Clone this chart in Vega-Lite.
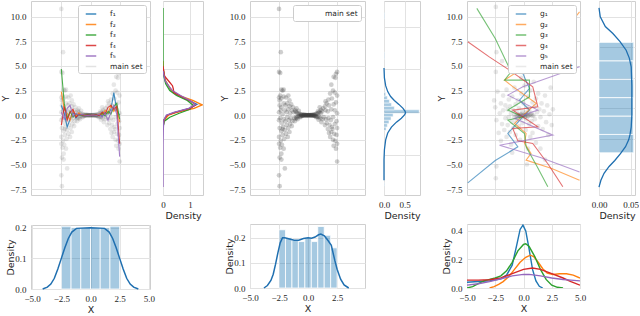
{
"background": "white",
"padding": {"left": 0, "top": 0, "right": 0, "bottom": 0},
"autosize": {"type": "pad"},
"spacing": 15,
"resolve": {"scale": {"x": "independent", "y": "independent", "color": "independent"}, "legend": {"color": "independent"}},
"datasets": {
"mainset": [
{"x":-2.5,"y":10.8},{"x":-2.35,"y":6.4},{"x":-2.5,"y":4.4},{"x":-2.4,"y":4.3},{"x":-2.3,"y":2.6},{"x":-2.2,"y":2.5},{"x":-2.1,"y":2.6},{"x":-2.4,"y":2.0},{"x":-2.5,"y":1.8},{"x":-2.45,"y":1.5},{"x":-2.3,"y":1.7},{"x":-2.1,"y":1.9},{"x":-1.9,"y":1.8},{"x":-1.7,"y":2.0},{"x":-1.6,"y":1.5},{"x":-2.45,"y":1.0},{"x":-2.3,"y":0.8},{"x":-2.1,"y":1.2},{"x":-1.95,"y":1.0},{"x":-1.8,"y":1.2},{"x":-1.6,"y":0.9},{"x":-1.45,"y":1.1},{"x":-1.3,"y":0.8},{"x":-2.5,"y":0.3},{"x":-2.35,"y":0.5},{"x":-2.2,"y":0.1},{"x":-2.0,"y":0.5},{"x":-1.85,"y":0.3},{"x":-1.7,"y":0.6},{"x":-1.55,"y":0.2},{"x":-1.4,"y":0.5},{"x":-1.25,"y":0.3},{"x":-1.1,"y":0.4},{"x":-2.5,"y":-0.5},{"x":-2.4,"y":-0.3},{"x":-2.25,"y":-0.8},{"x":-2.1,"y":-0.4},{"x":-1.95,"y":-0.6},{"x":-1.8,"y":-0.2},{"x":-1.65,"y":-0.5},{"x":-1.5,"y":-0.3},{"x":-1.35,"y":-0.6},{"x":-1.2,"y":-0.3},{"x":-1.05,"y":-0.2},{"x":-2.45,"y":-1.3},{"x":-2.3,"y":-1.6},{"x":-2.15,"y":-1.2},{"x":-2.0,"y":-1.5},{"x":-1.85,"y":-1.0},{"x":-1.7,"y":-1.3},{"x":-1.55,"y":-0.9},{"x":-1.4,"y":-1.1},{"x":-2.5,"y":-2.2},{"x":-2.35,"y":-2.6},{"x":-2.2,"y":-2.0},{"x":-2.05,"y":-2.4},{"x":-1.9,"y":-1.9},{"x":-1.75,"y":-2.2},{"x":-2.5,"y":-2.9},{"x":-2.4,"y":-3.3},{"x":-2.25,"y":-3.0},{"x":-2.1,"y":-3.4},{"x":-2.45,"y":-4.3},{"x":-2.3,"y":-4.5},{"x":-2.0,"y":-5.4},{"x":-2.5,"y":-6.1},{"x":-2.45,"y":-7.2},{"x":-2.3,"y":-3.9},{"x":-1.6,"y":-1.7},{"x":-2.2,"y":-1.4},
{"x":2.5,"y":4.4},{"x":2.4,"y":4.2},{"x":2.2,"y":3.9},{"x":2.35,"y":3.8},{"x":2.0,"y":3.1},{"x":2.15,"y":2.5},{"x":2.3,"y":2.3},{"x":2.5,"y":2.0},{"x":1.9,"y":2.2},{"x":1.75,"y":1.6},{"x":2.05,"y":1.7},{"x":2.4,"y":1.3},{"x":1.6,"y":1.2},{"x":1.45,"y":0.9},{"x":1.8,"y":1.0},{"x":2.2,"y":1.1},{"x":1.3,"y":0.7},{"x":1.2,"y":0.4},{"x":1.5,"y":0.5},{"x":1.7,"y":0.4},{"x":2.0,"y":0.6},{"x":2.3,"y":0.5},{"x":2.5,"y":0.2},{"x":1.1,"y":0.2},{"x":1.35,"y":-0.2},{"x":1.55,"y":-0.4},{"x":1.75,"y":-0.3},{"x":1.95,"y":-0.5},{"x":2.15,"y":-0.2},{"x":2.45,"y":-0.6},{"x":1.25,"y":-0.4},{"x":1.6,"y":-0.8},{"x":1.85,"y":-1.0},{"x":2.05,"y":-1.2},{"x":2.3,"y":-0.9},{"x":2.5,"y":-1.3},{"x":1.45,"y":-1.0},{"x":1.7,"y":-1.4},{"x":2.0,"y":-1.7},{"x":2.25,"y":-1.9},{"x":2.45,"y":-2.0},{"x":1.9,"y":-2.2},{"x":2.15,"y":-2.5},{"x":2.35,"y":-2.6},{"x":2.2,"y":-3.1},{"x":2.4,"y":-3.4},{"x":2.5,"y":-2.9},{"x":2.5,"y":-4.7},{"x":1.8,"y":-1.8},{"x":2.1,"y":-1.4},{"x":1.5,"y":1.4},
{"x":-1.0,"y":0.3},{"x":-0.95,"y":-0.25},{"x":-0.9,"y":0.15},{"x":-0.85,"y":-0.1},{"x":-0.8,"y":0.2},{"x":-0.75,"y":0.0},{"x":-0.7,"y":-0.15},{"x":-0.65,"y":0.1},{"x":-0.6,"y":0.05},{"x":-0.55,"y":-0.05},{"x":-0.5,"y":0.08},{"x":-0.45,"y":-0.04},{"x":-0.4,"y":0.02},{"x":-0.35,"y":0.04},{"x":-0.3,"y":-0.02},{"x":-0.25,"y":0.03},{"x":-0.2,"y":0.0},{"x":-0.15,"y":-0.02},{"x":-0.1,"y":0.01},{"x":-0.05,"y":0.0},{"x":0.0,"y":0.0},{"x":0.05,"y":0.01},{"x":0.1,"y":-0.01},{"x":0.15,"y":0.02},{"x":0.2,"y":0.0},{"x":0.25,"y":-0.03},{"x":0.3,"y":0.03},{"x":0.35,"y":-0.03},{"x":0.4,"y":0.05},{"x":0.45,"y":-0.05},{"x":0.5,"y":0.06},{"x":0.55,"y":-0.08},{"x":0.6,"y":0.1},{"x":0.65,"y":-0.1},{"x":0.7,"y":0.15},{"x":0.75,"y":-0.12},{"x":0.8,"y":0.2},{"x":0.85,"y":-0.2},{"x":0.9,"y":0.25},{"x":0.95,"y":-0.15},{"x":1.0,"y":0.35},{"x":1.05,"y":-0.3},{"x":-1.05,"y":-0.35},{"x":-1.1,"y":0.5},{"x":1.1,"y":0.55},
{"x":-0.6,"y":-0.06},{"x":-0.5,"y":-0.03},{"x":-0.4,"y":-0.02},{"x":-0.3,"y":0.01},{"x":-0.2,"y":0.02},{"x":-0.1,"y":-0.01},{"x":0.0,"y":0.02},{"x":0.1,"y":0.0},{"x":0.2,"y":0.02},{"x":0.3,"y":-0.01},{"x":0.4,"y":0.0},{"x":0.5,"y":-0.02},{"x":0.6,"y":-0.03},{"x":-0.65,"y":-0.2},{"x":0.7,"y":-0.2},{"x":-0.9,"y":-0.4},{"x":0.9,"y":-0.45},{"x":-0.8,"y":0.45},{"x":0.85,"y":0.4},{"x":-1.15,"y":-0.6},{"x":1.15,"y":-0.7},{"x":1.0,"y":0.8},{"x":-1.0,"y":0.7}
],
"set3": [
{"x":-2.45,"y":11.0},{"x":-2.4,"y":6.4},{"x":-2.45,"y":4.4},{"x":-2.4,"y":-5.2},{"x":-2.45,"y":-6.4},{"x":-1.9,"y":5.5},{"x":0.3,"y":-5.0},{"x":1.9,"y":-4.5},
{"x":-2.6,"y":1.5},{"x":-2.5,"y":0.8},{"x":-2.4,"y":-0.5},{"x":-2.3,"y":2.4},{"x":-2.2,"y":-1.8},{"x":-2.1,"y":0.2},{"x":-2.0,"y":1.2},{"x":-2.0,"y":-2.6},{"x":-1.9,"y":-0.9},{"x":-1.8,"y":2.0},{"x":-1.8,"y":0.5},{"x":-1.7,"y":-1.5},{"x":-1.6,"y":1.0},{"x":-1.6,"y":-0.3},{"x":-1.5,"y":2.6},{"x":-1.5,"y":-2.2},{"x":-1.4,"y":0.6},{"x":-1.4,"y":-1.0},{"x":-1.3,"y":1.6},{"x":-1.3,"y":-0.2},{"x":-1.2,"y":-1.7},{"x":-1.2,"y":0.9},{"x":-1.1,"y":-3.0},{"x":-1.1,"y":0.2},{"x":-1.0,"y":1.9},{"x":-1.0,"y":-0.7},{"x":-0.9,"y":0.5},{"x":-0.9,"y":-1.3},{"x":-0.8,"y":2.8},{"x":-0.8,"y":-0.2},{"x":-0.7,"y":1.1},{"x":-0.7,"y":-2.0},{"x":-0.6,"y":0.3},{"x":-0.6,"y":-0.6},{"x":-0.5,"y":1.5},{"x":-0.5,"y":-0.1},{"x":-0.4,"y":-1.1},{"x":-0.4,"y":0.7},{"x":-0.3,"y":0.1},{"x":-0.3,"y":-2.5},{"x":-0.2,"y":2.2},{"x":-0.2,"y":-0.3},{"x":-0.1,"y":0.4},{"x":-0.1,"y":-0.8},{"x":0.0,"y":0.0},{"x":0.0,"y":1.2},{"x":0.1,"y":-0.2},{"x":0.1,"y":3.0},{"x":0.2,"y":0.3},{"x":0.2,"y":-1.5},{"x":0.3,"y":0.8},{"x":0.3,"y":-0.4},{"x":0.4,"y":1.9},{"x":0.4,"y":-0.1},{"x":0.5,"y":-0.9},{"x":0.5,"y":0.5},{"x":0.6,"y":2.5},{"x":0.6,"y":-2.2},{"x":0.7,"y":0.2},{"x":0.7,"y":-0.6},{"x":0.8,"y":1.3},{"x":0.8,"y":-1.8},{"x":0.9,"y":0.0},{"x":0.9,"y":3.4},{"x":1.0,"y":-0.4},{"x":1.0,"y":0.9},{"x":1.1,"y":-2.8},{"x":1.1,"y":1.7},{"x":1.2,"y":0.3},{"x":1.3,"y":-1.1},{"x":1.3,"y":2.2},{"x":1.4,"y":0.6},{"x":1.5,"y":-0.2},{"x":1.5,"y":-3.4},{"x":1.6,"y":1.2},{"x":1.7,"y":-1.4},{"x":1.8,"y":0.4},{"x":1.9,"y":2.0},{"x":2.0,"y":-0.7},{"x":2.1,"y":1.0},{"x":2.2,"y":-2.0},{"x":2.3,"y":0.1},{"x":2.4,"y":2.8},{"x":2.5,"y":-1.0},{"x":2.6,"y":0.6},{"x":-0.2,"y":3.8},{"x":0.4,"y":-3.4},{"x":-1.0,"y":-3.8},
{"x":-0.6,"y":0.0},{"x":-0.5,"y":0.05},{"x":-0.4,"y":-0.05},{"x":-0.3,"y":0.0},{"x":-0.2,"y":0.05},{"x":-0.1,"y":-0.05},{"x":0.0,"y":0.02},{"x":0.1,"y":-0.02},{"x":0.2,"y":0.05},{"x":0.3,"y":0.0},{"x":0.4,"y":-0.05},{"x":0.5,"y":0.0},{"x":0.6,"y":0.05},{"x":0.7,"y":-0.02},{"x":-0.15,"y":0.15},{"x":0.15,"y":-0.15},{"x":0.35,"y":0.2},{"x":-0.35,"y":-0.15},{"x":-0.8,"y":0.05},{"x":0.8,"y":-0.05}
],
"fl": [
{"s":"f₁","x":-2.5,"y":1.0},{"s":"f₁","x":-2.25,"y":0.2},{"s":"f₁","x":-2.0,"y":-1.2},{"s":"f₁","x":-1.75,"y":-0.4},{"s":"f₁","x":-1.5,"y":0.3},{"s":"f₁","x":-1.25,"y":-0.3},{"s":"f₁","x":-1.0,"y":0.15},{"s":"f₁","x":-0.75,"y":-0.05},{"s":"f₁","x":-0.5,"y":0.05},{"s":"f₁","x":-0.25,"y":0.0},{"s":"f₁","x":0.0,"y":0.0},{"s":"f₁","x":0.25,"y":0.02},{"s":"f₁","x":0.5,"y":-0.03},{"s":"f₁","x":0.75,"y":0.1},{"s":"f₁","x":1.0,"y":-0.1},{"s":"f₁","x":1.25,"y":0.3},{"s":"f₁","x":1.5,"y":0.1},{"s":"f₁","x":1.75,"y":0.6},{"s":"f₁","x":2.0,"y":2.3},{"s":"f₁","x":2.25,"y":0.5},{"s":"f₁","x":2.5,"y":0.0},
{"s":"f₂","x":-2.5,"y":2.4},{"s":"f₂","x":-2.25,"y":0.6},{"s":"f₂","x":-2.0,"y":0.2},{"s":"f₂","x":-1.75,"y":-0.5},{"s":"f₂","x":-1.5,"y":0.5},{"s":"f₂","x":-1.25,"y":-0.1},{"s":"f₂","x":-1.0,"y":0.25},{"s":"f₂","x":-0.75,"y":0.0},{"s":"f₂","x":-0.5,"y":0.05},{"s":"f₂","x":-0.25,"y":-0.02},{"s":"f₂","x":0.0,"y":0.0},{"s":"f₂","x":0.25,"y":0.03},{"s":"f₂","x":0.5,"y":0.0},{"s":"f₂","x":0.75,"y":0.15},{"s":"f₂","x":1.0,"y":0.05},{"s":"f₂","x":1.25,"y":0.5},{"s":"f₂","x":1.5,"y":0.2},{"s":"f₂","x":1.75,"y":1.0},{"s":"f₂","x":2.0,"y":0.4},{"s":"f₂","x":2.25,"y":0.9},{"s":"f₂","x":2.5,"y":-0.7},
{"s":"f₃","x":-2.5,"y":4.7},{"s":"f₃","x":-2.25,"y":1.2},{"s":"f₃","x":-2.0,"y":-0.3},{"s":"f₃","x":-1.75,"y":0.4},{"s":"f₃","x":-1.5,"y":-0.2},{"s":"f₃","x":-1.25,"y":0.15},{"s":"f₃","x":-1.0,"y":-0.05},{"s":"f₃","x":-0.75,"y":0.05},{"s":"f₃","x":-0.5,"y":0.0},{"s":"f₃","x":-0.25,"y":0.02},{"s":"f₃","x":0.0,"y":0.0},{"s":"f₃","x":0.25,"y":-0.02},{"s":"f₃","x":0.5,"y":0.04},{"s":"f₃","x":0.75,"y":-0.05},{"s":"f₃","x":1.0,"y":0.2},{"s":"f₃","x":1.25,"y":-0.1},{"s":"f₃","x":1.5,"y":0.4},{"s":"f₃","x":1.75,"y":0.1},{"s":"f₃","x":2.0,"y":0.9},{"s":"f₃","x":2.25,"y":1.2},{"s":"f₃","x":2.5,"y":-0.4},
{"s":"f₄","x":-2.5,"y":-1.0},{"s":"f₄","x":-2.25,"y":0.9},{"s":"f₄","x":-2.0,"y":-0.5},{"s":"f₄","x":-1.75,"y":0.3},{"s":"f₄","x":-1.5,"y":0.6},{"s":"f₄","x":-1.25,"y":-0.2},{"s":"f₄","x":-1.0,"y":0.1},{"s":"f₄","x":-0.75,"y":0.05},{"s":"f₄","x":-0.5,"y":-0.03},{"s":"f₄","x":-0.25,"y":0.02},{"s":"f₄","x":0.0,"y":0.0},{"s":"f₄","x":0.25,"y":0.0},{"s":"f₄","x":0.5,"y":0.05},{"s":"f₄","x":0.75,"y":-0.05},{"s":"f₄","x":1.0,"y":0.3},{"s":"f₄","x":1.25,"y":0.1},{"s":"f₄","x":1.5,"y":0.8},{"s":"f₄","x":1.75,"y":1.0},{"s":"f₄","x":2.0,"y":0.6},{"s":"f₄","x":2.25,"y":0.9},{"s":"f₄","x":2.5,"y":-2.9},
{"s":"f₅","x":-2.5,"y":0.3},{"s":"f₅","x":-2.25,"y":-0.4},{"s":"f₅","x":-2.0,"y":0.7},{"s":"f₅","x":-1.75,"y":1.0},{"s":"f₅","x":-1.5,"y":-0.1},{"s":"f₅","x":-1.25,"y":0.2},{"s":"f₅","x":-1.0,"y":0.0},{"s":"f₅","x":-0.75,"y":0.1},{"s":"f₅","x":-0.5,"y":0.0},{"s":"f₅","x":-0.25,"y":-0.02},{"s":"f₅","x":0.0,"y":0.0},{"s":"f₅","x":0.25,"y":0.02},{"s":"f₅","x":0.5,"y":-0.02},{"s":"f₅","x":0.75,"y":0.1},{"s":"f₅","x":1.0,"y":-0.2},{"s":"f₅","x":1.25,"y":0.2},{"s":"f₅","x":1.5,"y":-0.5},{"s":"f₅","x":1.75,"y":0.3},{"s":"f₅","x":2.0,"y":1.0},{"s":"f₅","x":2.25,"y":0.1},{"s":"f₅","x":2.5,"y":-4.2}
],
"gl": [
{"s":"g₁","i":0,"x":-4.93,"y":-6.87},{"s":"g₁","i":1,"x":-2.5,"y":-4.6},{"s":"g₁","i":2,"x":-0.5,"y":-3.2},{"s":"g₁","i":3,"x":-1.39,"y":-1.85},{"s":"g₁","i":4,"x":-0.06,"y":-0.16},{"s":"g₁","i":5,"x":0.53,"y":0.52},{"s":"g₁","i":6,"x":-0.35,"y":1.53},{"s":"g₁","i":7,"x":0.53,"y":2.72},{"s":"g₁","i":8,"x":-0.06,"y":4.25},{"s":"g₁","i":9,"x":-0.06,"y":5.3},{"s":"g₁","i":10,"x":0.2,"y":7.5},{"s":"g₁","i":11,"x":0.53,"y":10.85},
{"s":"g₂","i":0,"x":4.96,"y":10.5},{"s":"g₂","i":1,"x":2.5,"y":7.0},{"s":"g₂","i":2,"x":0.5,"y":5.2},{"s":"g₂","i":3,"x":-1.68,"y":3.57},{"s":"g₂","i":4,"x":-0.95,"y":2.9},{"s":"g₂","i":5,"x":1.12,"y":1.2},{"s":"g₂","i":6,"x":-0.8,"y":-0.83},{"s":"g₂","i":7,"x":0.23,"y":-1.85},{"s":"g₂","i":8,"x":0.09,"y":-2.87},{"s":"g₂","i":9,"x":0.67,"y":-3.88},{"s":"g₂","i":10,"x":0.23,"y":-4.56},{"s":"g₂","i":11,"x":2.5,"y":-5.4},{"s":"g₂","i":12,"x":4.96,"y":-6.6},
{"s":"g₃","i":0,"x":-4.13,"y":10.85},{"s":"g₃","i":1,"x":-2.5,"y":7.8},{"s":"g₃","i":2,"x":-1.1,"y":4.41},{"s":"g₃","i":3,"x":-1.68,"y":3.57},{"s":"g₃","i":4,"x":0.53,"y":3.57},{"s":"g₃","i":5,"x":0.53,"y":1.87},{"s":"g₃","i":6,"x":-1.39,"y":0.52},{"s":"g₃","i":7,"x":-0.06,"y":-0.16},{"s":"g₃","i":8,"x":-1.39,"y":-0.5},{"s":"g₃","i":9,"x":0.09,"y":-1.85},{"s":"g₃","i":10,"x":0.23,"y":-3.2},{"s":"g₃","i":11,"x":1.2,"y":-5.2},{"s":"g₃","i":12,"x":2.15,"y":-7.27},
{"s":"g₄","i":0,"x":-4.93,"y":7.46},{"s":"g₄","i":1,"x":-3.0,"y":5.9},{"s":"g₄","i":2,"x":-1.24,"y":4.58},{"s":"g₄","i":3,"x":0.82,"y":2.89},{"s":"g₄","i":4,"x":1.27,"y":0.85},{"s":"g₄","i":5,"x":-0.95,"y":0.52},{"s":"g₄","i":6,"x":1.27,"y":-1.18},{"s":"g₄","i":7,"x":-0.95,"y":-1.34},{"s":"g₄","i":8,"x":-0.5,"y":-2.6},{"s":"g₄","i":9,"x":0.82,"y":-2.87},{"s":"g₄","i":10,"x":2.2,"y":-5.0},{"s":"g₄","i":11,"x":3.48,"y":-7.27},
{"s":"g₅","i":0,"x":4.96,"y":4.92},{"s":"g₅","i":1,"x":-0.06,"y":2.89},{"s":"g₅","i":2,"x":-1.39,"y":2.04},{"s":"g₅","i":3,"x":1.27,"y":0.52},{"s":"g₅","i":4,"x":-0.8,"y":-0.3},{"s":"g₅","i":5,"x":2.6,"y":-2.02},{"s":"g₅","i":6,"x":-2.12,"y":-3.04},{"s":"g₅","i":7,"x":1.5,"y":-4.3},{"s":"g₅","i":8,"x":4.96,"y":-5.76}
],
"fk": [
{"s":"f₁","y":4.8,"d":0},{"s":"f₁","y":3.5,"d":0.08},{"s":"f₁","y":3.0,"d":0.2},{"s":"f₁","y":2.5,"d":0.3},{"s":"f₁","y":2.0,"d":0.55},{"s":"f₁","y":1.5,"d":0.95},{"s":"f₁","y":1.1,"d":1.25},{"s":"f₁","y":0.7,"d":1.0},{"s":"f₁","y":0.3,"d":0.45},{"s":"f₁","y":0.0,"d":0.15},{"s":"f₁","y":-0.5,"d":0.03},{"s":"f₁","y":-1.5,"d":0},
{"s":"f₂","y":5.5,"d":0},{"s":"f₂","y":4.5,"d":0.02},{"s":"f₂","y":3.5,"d":0.1},{"s":"f₂","y":3.0,"d":0.2},{"s":"f₂","y":2.5,"d":0.32},{"s":"f₂","y":2.0,"d":0.6},{"s":"f₂","y":1.5,"d":1.1},{"s":"f₂","y":1.05,"d":1.45},{"s":"f₂","y":0.7,"d":1.15},{"s":"f₂","y":0.3,"d":0.5},{"s":"f₂","y":0.0,"d":0.2},{"s":"f₂","y":-0.5,"d":0.05},{"s":"f₂","y":-1.0,"d":0},
{"s":"f₃","y":10.9,"d":0},{"s":"f₃","y":5.0,"d":0},{"s":"f₃","y":4.0,"d":0.03},{"s":"f₃","y":3.2,"d":0.1},{"s":"f₃","y":2.5,"d":0.25},{"s":"f₃","y":2.0,"d":0.5},{"s":"f₃","y":1.5,"d":0.9},{"s":"f₃","y":1.05,"d":1.1},{"s":"f₃","y":0.6,"d":1.0},{"s":"f₃","y":0.2,"d":0.6},{"s":"f₃","y":-0.2,"d":0.25},{"s":"f₃","y":-0.6,"d":0.05},{"s":"f₃","y":-1.2,"d":0},
{"s":"f₄","y":5.0,"d":0},{"s":"f₄","y":4.0,"d":0.05},{"s":"f₄","y":3.5,"d":0.2},{"s":"f₄","y":3.0,"d":0.35},{"s":"f₄","y":2.7,"d":0.38},{"s":"f₄","y":2.3,"d":0.4},{"s":"f₄","y":1.8,"d":0.75},{"s":"f₄","y":1.4,"d":1.05},{"s":"f₄","y":1.05,"d":1.2},{"s":"f₄","y":0.7,"d":1.0},{"s":"f₄","y":0.3,"d":0.45},{"s":"f₄","y":0.0,"d":0.15},{"s":"f₄","y":-0.5,"d":0.03},{"s":"f₄","y":-1.5,"d":0},
{"s":"f₅","y":4.5,"d":0},{"s":"f₅","y":3.5,"d":0.08},{"s":"f₅","y":3.0,"d":0.2},{"s":"f₅","y":2.5,"d":0.35},{"s":"f₅","y":2.0,"d":0.65},{"s":"f₅","y":1.5,"d":1.0},{"s":"f₅","y":1.1,"d":1.2},{"s":"f₅","y":0.7,"d":0.95},{"s":"f₅","y":0.3,"d":0.4},{"s":"f₅","y":0.0,"d":0.12},{"s":"f₅","y":-0.5,"d":0.03},{"s":"f₅","y":-1.5,"d":0.01},{"s":"f₅","y":-3.0,"d":0},{"s":"f₅","y":-7.3,"d":0}
],
"h2": [
{"y0":-1.55,"y1":-1.2,"d":0.05},{"y0":-1.2,"y1":-0.85,"d":0.08},{"y0":-0.85,"y1":-0.5,"d":0.12},{"y0":-0.5,"y1":-0.15,"d":0.17},{"y0":-0.15,"y1":0.2,"d":0.22},{"y0":0.2,"y1":0.55,"d":0.85},{"y0":0.55,"y1":0.9,"d":0.25},{"y0":0.9,"y1":1.25,"d":0.18},{"y0":1.25,"y1":1.6,"d":0.13},{"y0":1.6,"y1":1.95,"d":0.08},{"y0":1.95,"y1":2.3,"d":0.04},{"y0":9.8,"y1":10.4,"d":0.015},{"y0":5.7,"y1":6.4,"d":0.015},{"y0":4.2,"y1":4.55,"d":0.015},{"y0":-4.55,"y1":-4.2,"d":0.015},{"y0":-6.1,"y1":-5.75,"d":0.015},{"y0":-7.2,"y1":-6.85,"d":0.015}
],
"k2": [
{"y":4.8,"d":0},{"y":3.8,"d":0.01},{"y":3.0,"d":0.04},{"y":2.4,"d":0.09},{"y":1.9,"d":0.16},{"y":1.5,"d":0.25},{"y":1.1,"d":0.36},{"y":0.7,"d":0.46},{"y":0.4,"d":0.51},{"y":0.24,"d":0.52},{"y":0.05,"d":0.5},{"y":-0.3,"d":0.42},{"y":-0.7,"d":0.3},{"y":-1.2,"d":0.18},{"y":-1.8,"d":0.09},{"y":-2.5,"d":0.04},{"y":-3.5,"d":0.01},{"y":-4.5,"d":0},{"y":-6.6,"d":0}
],
"h3": [
{"y0":-3.82,"y1":-1.95,"d":0.055},{"y0":-1.95,"y1":-0.08,"d":0.054},{"y0":-0.08,"y1":1.79,"d":0.054},{"y0":1.79,"y1":3.66,"d":0.055},{"y0":3.66,"y1":5.53,"d":0.054},{"y0":5.53,"y1":7.4,"d":0.055}
],
"k3": [
{"y":10.9,"d":0},{"y":10.0,"d":0.002},{"y":9.0,"d":0.01},{"y":8.3,"d":0.022},{"y":7.5,"d":0.033},{"y":6.6,"d":0.043},{"y":5.8,"d":0.048},{"y":4.9,"d":0.051},{"y":3.0,"d":0.052},{"y":0.0,"d":0.052},{"y":-1.2,"d":0.051},{"y":-2.0,"d":0.049},{"y":-2.5,"d":0.047},{"y":-3.2,"d":0.042},{"y":-3.9,"d":0.034},{"y":-4.6,"d":0.025},{"y":-5.2,"d":0.016},{"y":-5.9,"d":0.008},{"y":-6.6,"d":0.003},{"y":-7.3,"d":0}
],
"b1h": [
{"x0":-2.5,"x1":-1.667,"d":0.205},{"x0":-1.667,"x1":-0.833,"d":0.2},{"x0":-0.833,"x1":0,"d":0.2},{"x0":0,"x1":0.833,"d":0.2},{"x0":0.833,"x1":1.667,"d":0.2},{"x0":1.667,"x1":2.5,"d":0.205}
],
"b1k": [
{"x":-4.1,"d":0},{"x":-3.7,"d":0.006},{"x":-3.4,"d":0.016},{"x":-3.1,"d":0.035},{"x":-2.8,"d":0.065},{"x":-2.5,"d":0.1},{"x":-2.2,"d":0.135},{"x":-1.9,"d":0.165},{"x":-1.6,"d":0.186},{"x":-1.2,"d":0.198},{"x":0,"d":0.2},{"x":1.2,"d":0.198},{"x":1.6,"d":0.186},{"x":1.9,"d":0.165},{"x":2.2,"d":0.135},{"x":2.5,"d":0.1},{"x":2.8,"d":0.065},{"x":3.1,"d":0.035},{"x":3.4,"d":0.016},{"x":3.7,"d":0.006},{"x":4.1,"d":0}
],
"b2h": [
{"x0":-2.5,"x1":-1.944,"d":0.232},{"x0":-1.944,"x1":-1.389,"d":0.2},{"x0":-1.389,"x1":-0.833,"d":0.19},{"x0":-0.833,"x1":-0.278,"d":0.185},{"x0":-0.278,"x1":0.278,"d":0.2},{"x0":0.278,"x1":0.833,"d":0.185},{"x0":0.833,"x1":1.389,"d":0.245},{"x0":1.389,"x1":1.944,"d":0.21},{"x0":1.944,"x1":2.5,"d":0.16}
],
"b2k": [
{"x":-3.8,"d":0},{"x":-3.5,"d":0.01},{"x":-3.2,"d":0.03},{"x":-3.0,"d":0.055},{"x":-2.8,"d":0.095},{"x":-2.6,"d":0.14},{"x":-2.4,"d":0.18},{"x":-2.2,"d":0.2},{"x":-2.0,"d":0.2},{"x":-1.6,"d":0.195},{"x":-1.2,"d":0.19},{"x":-0.8,"d":0.19},{"x":-0.4,"d":0.197},{"x":0.0,"d":0.2},{"x":0.3,"d":0.198},{"x":0.6,"d":0.203},{"x":0.9,"d":0.212},{"x":1.1,"d":0.215},{"x":1.4,"d":0.208},{"x":1.7,"d":0.19},{"x":2.0,"d":0.17},{"x":2.3,"d":0.11},{"x":2.5,"d":0.075},{"x":2.8,"d":0.035},{"x":3.1,"d":0.012},{"x":3.5,"d":0}
],
"b3k": [
{"s":"g₁","x":-5,"d":0.04},{"s":"g₁","x":-4,"d":0.045},{"s":"g₁","x":-3,"d":0.05},{"s":"g₁","x":-2,"d":0.065},{"s":"g₁","x":-1.5,"d":0.09},{"s":"g₁","x":-1.0,"d":0.16},{"s":"g₁","x":-0.6,"d":0.3},{"s":"g₁","x":-0.3,"d":0.41},{"s":"g₁","x":-0.05,"d":0.44},{"s":"g₁","x":0.2,"d":0.4},{"s":"g₁","x":0.5,"d":0.27},{"s":"g₁","x":0.8,"d":0.13},{"s":"g₁","x":1.1,"d":0.05},{"s":"g₁","x":1.4,"d":0.012},{"s":"g₁","x":1.7,"d":0},
{"s":"g₂","x":-3.0,"d":0},{"s":"g₂","x":-2.6,"d":0.01},{"s":"g₂","x":-2.2,"d":0.025},{"s":"g₂","x":-1.8,"d":0.045},{"s":"g₂","x":-1.3,"d":0.08},{"s":"g₂","x":-0.8,"d":0.13},{"s":"g₂","x":-0.3,"d":0.18},{"s":"g₂","x":0.2,"d":0.215},{"s":"g₂","x":0.6,"d":0.23},{"s":"g₂","x":0.9,"d":0.22},{"s":"g₂","x":1.3,"d":0.18},{"s":"g₂","x":1.7,"d":0.135},{"s":"g₂","x":2.1,"d":0.105},{"s":"g₂","x":2.6,"d":0.095},{"s":"g₂","x":3.2,"d":0.1},{"s":"g₂","x":3.8,"d":0.1},{"s":"g₂","x":4.4,"d":0.09},{"s":"g₂","x":5.0,"d":0.07},
{"s":"g₃","x":-5,"d":0},{"s":"g₃","x":-4.5,"d":0.01},{"s":"g₃","x":-4,"d":0.03},{"s":"g₃","x":-3.5,"d":0.05},{"s":"g₃","x":-3,"d":0.06},{"s":"g₃","x":-2.5,"d":0.07},{"s":"g₃","x":-2,"d":0.085},{"s":"g₃","x":-1.5,"d":0.12},{"s":"g₃","x":-1,"d":0.18},{"s":"g₃","x":-0.5,"d":0.26},{"s":"g₃","x":0,"d":0.305},{"s":"g₃","x":0.2,"d":0.31},{"s":"g₃","x":0.5,"d":0.29},{"s":"g₃","x":1.0,"d":0.22},{"s":"g₃","x":1.5,"d":0.13},{"s":"g₃","x":2.0,"d":0.06},{"s":"g₃","x":2.5,"d":0.02},{"s":"g₃","x":3.0,"d":0.005},{"s":"g₃","x":3.5,"d":0},
{"s":"g₄","x":-5,"d":0.055},{"s":"g₄","x":-4,"d":0.055},{"s":"g₄","x":-3,"d":0.058},{"s":"g₄","x":-2,"d":0.07},{"s":"g₄","x":-1,"d":0.1},{"s":"g₄","x":0,"d":0.13},{"s":"g₄","x":0.8,"d":0.14},{"s":"g₄","x":1.5,"d":0.13},{"s":"g₄","x":2.5,"d":0.1},{"s":"g₄","x":3.5,"d":0.07},{"s":"g₄","x":4.2,"d":0.045},{"s":"g₄","x":5,"d":0.02},
{"s":"g₅","x":-5,"d":0.02},{"s":"g₅","x":-4,"d":0.03},{"s":"g₅","x":-3,"d":0.045},{"s":"g₅","x":-2,"d":0.065},{"s":"g₅","x":-1,"d":0.085},{"s":"g₅","x":0,"d":0.095},{"s":"g₅","x":0.5,"d":0.095},{"s":"g₅","x":1.5,"d":0.085},{"s":"g₅","x":2.5,"d":0.07},{"s":"g₅","x":3.5,"d":0.06},{"s":"g₅","x":4.2,"d":0.055},{"s":"g₅","x":5,"d":0.05}
]
},
"hconcat": [
{"vconcat": [
 {"hconcat": [
  {"width": 119, "height": 194, "layer": [
   {"data": {"name": "mainset"}, "mark": {"type": "point", "filled": true, "size": 22, "opacity": 0.12, "color": "#3a3a3a", "clip": true},
    "encoding": {"x": {"field": "x", "type": "quantitative", "scale": {"domain": [-5.1, 5.1], "nice": false, "zero": false}, "axis": {"values": [-2.5, 0, 2.5], "labels": false, "title": null}},
                 "y": {"field": "y", "type": "quantitative", "scale": {"domain": [-8.1, 11.6], "nice": false, "zero": false}, "axis": {"values": [-7.5, -5, -2.5, 0, 2.5, 5, 7.5, 10], "format": ".1f", "title": "Y", "labelOverlap": false}}}},
   {"data": {"name": "fl"}, "mark": {"type": "line", "strokeWidth": 1.1, "opacity": 0.85, "clip": true},
    "encoding": {"x": {"field": "x", "type": "quantitative", "axis": {"values": [-2.5, 0, 2.5], "labels": false, "title": null}}, "y": {"field": "y", "type": "quantitative", "axis": {"values": [-7.5, -5, -2.5, 0, 2.5, 5, 7.5, 10], "format": ".1f", "title": "Y", "labelOverlap": false}},
     "color": {"field": "s", "type": "nominal", "scale": {"domain": ["f₁", "f₂", "f₃", "f₄", "f₅", "main set"], "range": ["#1f77b4", "#ff7f0e", "#2ca02c", "#d62728", "#9467bd", "#dedede"]},
      "legend": {"title": null, "encode": {"symbols": {"size": {"value": 380}, "strokeWidth": {"value": 1.5}}, "labels": {"font": {"value": "DejaVu Sans"}, "fontSize": {"value": 7.5}}}}}}}
  ]},
  {"width": 40, "height": 194, "data": {"name": "fk"}, "mark": {"type": "line", "strokeWidth": 1.3, "clip": true},
   "encoding": {"x": {"field": "d", "type": "quantitative", "scale": {"domain": [0, 1.48], "nice": false}, "axis": {"values": [0, 1], "format": "d", "title": "Density", "labelOverlap": false}},
    "y": {"field": "y", "type": "quantitative", "scale": {"domain": [-8.1, 11.6], "nice": false, "zero": false}, "axis": {"values": [8.25, 4.69, 1.14, -2.41, -5.97], "labels": false, "title": null}},
    "color": {"field": "s", "type": "nominal", "scale": {"domain": ["f₁", "f₂", "f₃", "f₄", "f₅"], "range": ["#1f77b4", "#ff7f0e", "#2ca02c", "#d62728", "#9467bd"]}, "legend": null},
    "order": {"field": "y", "type": "quantitative"}}}
 ], "spacing": 13, "bounds": "flush", "resolve": {"scale": {"x": "independent", "y": "independent", "color": "independent"}, "legend": {"color": "independent"}}},
 {"width": 119, "height": 64, "layer": [
  {"data": {"name": "b1h"}, "mark": {"type": "rect", "color": "#1f77b4", "fillOpacity": 0.4, "stroke": "white", "strokeWidth": 0.8},
   "encoding": {"x": {"field": "x0", "type": "quantitative", "scale": {"domain": [-5.1, 5.1], "nice": false, "zero": false}, "axis": {"values": [-5, -2.5, 0, 2.5, 5], "format": ".1f", "title": "X", "labelOverlap": false}}, "x2": {"field": "x1"},
    "y": {"field": "d", "type": "quantitative", "scale": {"domain": [0, 0.209], "nice": false}, "axis": {"values": [0, 0.1, 0.2], "format": ".1f", "title": "Density", "labelOverlap": false}}, "y2": {"datum": 0}}},
  {"data": {"name": "b1k"}, "mark": {"type": "line", "color": "#1f6fb0", "strokeWidth": 1.5},
   "encoding": {"x": {"field": "x", "type": "quantitative", "axis": {"values": [-5, -2.5, 0, 2.5, 5], "format": ".1f", "title": "X", "labelOverlap": false}}, "y": {"field": "d", "type": "quantitative", "axis": {"values": [0, 0.1, 0.2], "format": ".1f", "title": "Density", "labelOverlap": false}}}}
 ]}
], "spacing": 3, "resolve": {"scale": {"x": "independent", "y": "independent", "color": "independent"}, "legend": {"color": "independent"}}},
{"vconcat": [
 {"hconcat": [
  {"width": 115, "height": 194, "data": {"name": "mainset"}, "mark": {"type": "point", "filled": true, "size": 22, "opacity": 0.25, "clip": true},
   "encoding": {"x": {"field": "x", "type": "quantitative", "scale": {"domain": [-5.0, 4.9], "nice": false, "zero": false}, "axis": {"values": [-2.5, 0, 2.5], "labels": false, "title": null}},
    "y": {"field": "y", "type": "quantitative", "scale": {"domain": [-8.1, 11.6], "nice": false, "zero": false}, "axis": {"values": [-7.5, -5, -2.5, 0, 2.5, 5, 7.5, 10], "format": ".1f", "title": "Y", "labelOverlap": false}},
    "color": {"datum": "main set", "type": "nominal", "scale": {"domain": ["main set"], "range": ["#3a3a3a"]},
     "legend": {"title": null, "encode": {
       "symbols": {"shape": {"value": "circle"}, "size": {"value": 22}, "fill": {"value": "#444444"}, "opacity": {"value": 0.3}},
       "labels": {"font": {"value": "DejaVu Sans"}, "fontSize": {"value": 7.5}}}}}}},
  {"width": 36, "height": 194, "layer": [
   {"data": {"name": "h2"}, "mark": {"type": "rect", "color": "#1f77b4", "fillOpacity": 0.4, "stroke": "white", "strokeWidth": 0.5},
    "encoding": {"x": {"field": "d", "type": "quantitative", "scale": {"domain": [0, 0.87], "nice": false}, "axis": {"values": [0, 0.5], "format": ".1f", "title": "Density", "labelOverlap": false}}, "x2": {"datum": 0},
     "y": {"field": "y0", "type": "quantitative", "scale": {"domain": [-8.1, 11.6], "nice": false, "zero": false}, "axis": {"values": [8.99, 4.66, 0.33, -4.01], "labels": false, "title": null}}, "y2": {"field": "y1"}}},
   {"data": {"name": "k2"}, "mark": {"type": "line", "color": "#1f6fb0", "strokeWidth": 1.3},
    "encoding": {"x": {"field": "d", "type": "quantitative", "axis": {"values": [0, 0.5], "format": ".1f", "title": "Density", "labelOverlap": false}}, "y": {"field": "y", "type": "quantitative", "axis": {"values": [8.99, 4.66, 0.33, -4.01], "labels": false, "title": null}}, "order": {"field": "y", "type": "quantitative"}}}
  ]}
 ], "spacing": 19, "bounds": "flush", "resolve": {"scale": {"x": "independent", "y": "independent", "color": "independent"}, "legend": {"color": "independent"}}},
 {"width": 115, "height": 64, "layer": [
  {"data": {"name": "b2h"}, "mark": {"type": "rect", "color": "#1f77b4", "fillOpacity": 0.4, "stroke": "white", "strokeWidth": 0.8},
   "encoding": {"x": {"field": "x0", "type": "quantitative", "scale": {"domain": [-5.0, 4.9], "nice": false, "zero": false}, "axis": {"values": [-5, -2.5, 0, 2.5, 5], "format": ".1f", "title": "X", "labelOverlap": false}}, "x2": {"field": "x1"},
    "y": {"field": "d", "type": "quantitative", "scale": {"domain": [0, 0.255], "nice": false}, "axis": {"values": [0, 0.1, 0.2], "format": ".1f", "title": "Density", "labelOverlap": false}}, "y2": {"datum": 0}}},
  {"data": {"name": "b2k"}, "mark": {"type": "line", "color": "#1f6fb0", "strokeWidth": 1.5},
   "encoding": {"x": {"field": "x", "type": "quantitative", "axis": {"values": [-5, -2.5, 0, 2.5, 5], "format": ".1f", "title": "X", "labelOverlap": false}}, "y": {"field": "d", "type": "quantitative", "axis": {"values": [0, 0.1, 0.2], "format": ".1f", "title": "Density", "labelOverlap": false}}}}
 ]}
], "spacing": 3, "resolve": {"scale": {"x": "independent", "y": "independent", "color": "independent"}, "legend": {"color": "independent"}}},
{"vconcat": [
 {"hconcat": [
  {"width": 113, "height": 194, "layer": [
   {"data": {"name": "set3"}, "mark": {"type": "point", "filled": true, "size": 22, "opacity": 0.12, "color": "#3a3a3a", "clip": true},
    "encoding": {"x": {"field": "x", "type": "quantitative", "scale": {"domain": [-5.0, 5.0], "nice": false, "zero": false}, "axis": {"values": [-2.5, 0, 2.5], "labels": false, "title": null}},
                 "y": {"field": "y", "type": "quantitative", "scale": {"domain": [-8.1, 11.6], "nice": false, "zero": false}, "axis": {"values": [-7.5, -5, -2.5, 0, 2.5, 5, 7.5, 10], "format": ".1f", "title": "Y", "labelOverlap": false}}}},
   {"data": {"name": "gl"}, "mark": {"type": "line", "strokeWidth": 1.1, "opacity": 0.65, "clip": true},
    "encoding": {"x": {"field": "x", "type": "quantitative", "axis": {"values": [-2.5, 0, 2.5], "labels": false, "title": null}}, "y": {"field": "y", "type": "quantitative", "axis": {"values": [-7.5, -5, -2.5, 0, 2.5, 5, 7.5, 10], "format": ".1f", "title": "Y", "labelOverlap": false}}, "order": {"field": "i", "type": "quantitative"},
     "color": {"field": "s", "type": "nominal", "scale": {"domain": ["g₁", "g₂", "g₃", "g₄", "g₅", "main set"], "range": ["#1f77b4", "#ff7f0e", "#2ca02c", "#d62728", "#9467bd", "#dedede"]},
      "legend": {"title": null, "encode": {"symbols": {"size": {"value": 380}, "strokeWidth": {"value": 1.5}}, "labels": {"font": {"value": "DejaVu Sans"}, "fontSize": {"value": 7.5}}}}}}}
  ]},
  {"width": 36, "height": 194, "layer": [
   {"data": {"name": "h3"}, "mark": {"type": "rect", "color": "#1f77b4", "fillOpacity": 0.4, "stroke": "white", "strokeWidth": 0.8},
    "encoding": {"x": {"field": "d", "type": "quantitative", "scale": {"domain": [0, 0.057], "nice": false}, "axis": {"values": [0, 0.05], "format": ".2f", "title": "Density", "labelOverlap": false}}, "x2": {"datum": 0},
     "y": {"field": "y0", "type": "quantitative", "scale": {"domain": [-8.1, 11.6], "nice": false, "zero": false}, "axis": {"values": [10.0, 6.9, 3.8, 0.71, -2.39, -5.48], "labels": false, "title": null}}, "y2": {"field": "y1"}}},
   {"data": {"name": "k3"}, "mark": {"type": "line", "color": "#1f6fb0", "strokeWidth": 1.3},
    "encoding": {"x": {"field": "d", "type": "quantitative", "axis": {"values": [0, 0.05], "format": ".2f", "title": "Density", "labelOverlap": false}}, "y": {"field": "y", "type": "quantitative", "axis": {"values": [10.0, 6.9, 3.8, 0.71, -2.39, -5.48], "labels": false, "title": null}}, "order": {"field": "y", "type": "quantitative"}}}
  ]}
 ], "spacing": 19, "bounds": "flush", "resolve": {"scale": {"x": "independent", "y": "independent", "color": "independent"}, "legend": {"color": "independent"}}},
 {"width": 113, "height": 64, "data": {"name": "b3k"}, "mark": {"type": "line", "strokeWidth": 1.4, "clip": true},
  "encoding": {"x": {"field": "x", "type": "quantitative", "scale": {"domain": [-5.0, 5.0], "nice": false, "zero": false}, "axis": {"values": [-5, -2.5, 0, 2.5, 5], "format": ".1f", "title": "X", "labelOverlap": false}},
   "y": {"field": "d", "type": "quantitative", "scale": {"domain": [0, 0.448], "nice": false}, "axis": {"values": [0, 0.2, 0.4], "format": ".1f", "title": "Density", "labelOverlap": false}},
   "color": {"field": "s", "type": "nominal", "scale": {"domain": ["g₁", "g₂", "g₃", "g₄", "g₅"], "range": ["#1f77b4", "#ff7f0e", "#2ca02c", "#d62728", "#9467bd"]}, "legend": null}}}
], "spacing": 3, "resolve": {"scale": {"x": "independent", "y": "independent", "color": "independent"}, "legend": {"color": "independent"}}}
],
"config": {
 "view": {"stroke": "#cfcfcf", "strokeWidth": 1},
 "axis": {"gridColor": "#e2e2e2", "gridWidth": 1, "domain": false, "ticks": false, "labelFont": "Liberation Serif", "labelFontSize": 9, "labelColor": "#262626", "titleFont": "DejaVu Sans", "titleFontSize": 9.5, "titleFontWeight": "normal", "titleColor": "#262626", "labelFlush": false, "labelOverlap": false},
 "axisX": {"labelPadding": 5, "titlePadding": 1},
 "axisY": {"labelPadding": 5, "titlePadding": -1},
 "legend": {"orient": "top-right", "offset": 4, "fillColor": "white", "strokeColor": "#cccccc", "padding": 3, "cornerRadius": 2, "symbolType": "stroke", "symbolSize": 110, "symbolOffset": 4, "symbolStrokeWidth": 1.5, "labelFontSize": 7.5, "labelFont": "DejaVu Sans", "labelOffset": 13, "rowPadding": 0.5, "labelColor": "#262626"}
}
}
